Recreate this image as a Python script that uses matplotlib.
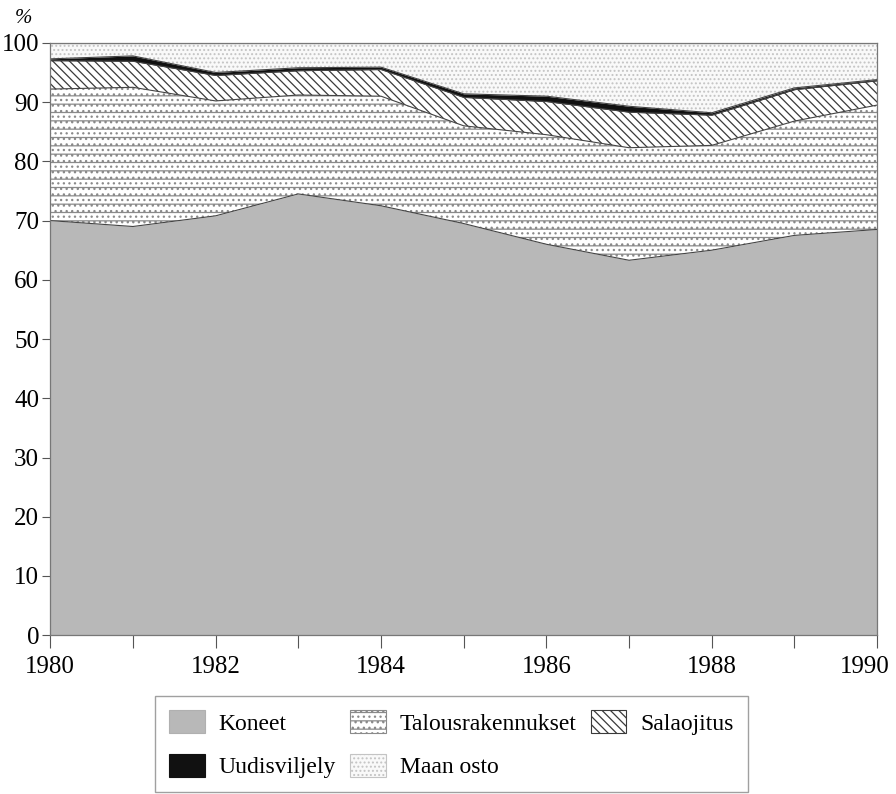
import matplotlib
matplotlib.use('Agg')
import matplotlib.pyplot as plt
import matplotlib.transforms as mtransforms
import numpy as np
from matplotlib.patches import Patch

plt.rcParams['font.family'] = ['Liberation Serif', 'DejaVu Serif']
plt.rcParams['hatch.linewidth'] = 0.9

# data, % shares of investments
years = [1980, 1981, 1982, 1983, 1984, 1985, 1986, 1987, 1988, 1989, 1990]
koneet = [70.0, 69.0, 70.8, 74.5, 72.5, 69.5, 66.0, 63.3, 65.0, 67.5, 68.5]
talousrakennukset = [22.2, 23.5, 19.4, 16.7, 18.5, 16.5, 18.5, 19.0, 17.7, 19.3, 21.0]
salaojitus = [4.8, 4.4, 4.3, 4.1, 4.5, 4.8, 5.6, 6.0, 5.1, 5.3, 4.1]
uudisviljely = [0.3, 0.9, 0.5, 0.5, 0.4, 0.6, 0.9, 1.0, 0.4, 0.3, 0.2]
labels = ['Koneet', 'Talousrakennukset', 'Salaojitus', 'Uudisviljely', 'Maan osto']

x = np.array(years)
k = np.array(koneet)
t = np.array(talousrakennukset)
s = np.array(salaojitus)
u = np.array(uudisviljely)
m = 100 - k - t - s - u

layers = [k, t, s, u, m]
# facecolor, hatch color, hatch
styles = [
    ('#b8b8b8', '#b0b0b0', None),
    ('white', '#8a8a8a', '--...'),
    ('white', '#3a3a3a', '\\\\\\\\'),
    ('#111111', '#111111', None),
    ('#f9f9f9', '#c4c4c4', '....'),
]

fig = plt.figure(figsize=(8.96, 7.94), dpi=100)
ax = fig.add_axes([0.056, 0.2, 0.923, 0.746])

bottom = np.zeros(len(x))
for vals, (fc, hc, h) in zip(layers, styles):
    top = bottom + vals
    ax.fill_between(x, bottom, top, facecolor=fc, edgecolor=hc, hatch=h, linewidth=0)
    ax.plot(x, top, color='#444444', linewidth=0.8)
    bottom = top

ax.set_xlim(1980, 1990)
ax.set_ylim(0, 100)
ax.set_yticks(range(0, 101, 10))
ax.set_xticks(years)
ax.set_xticklabels([str(y) if y % 2 == 0 else '' for y in years])
ax.tick_params(axis='both', direction='out', labelsize=18, color='#555555')
ax.tick_params(axis='y', length=6, pad=2)
ax.tick_params(axis='x', length=9, pad=6)
for sp in ax.spines.values():
    sp.set_color('#777777')
    sp.set_linewidth(0.9)

# last year label sits a bit left so it stays inside the figure
last = ax.get_xticklabels()[-1]
last.set_transform(last.get_transform() + mtransforms.ScaledTranslation(-12 / 100, 0, fig.dpi_scale_trans))

fig.text(0.017, 0.977, '%', fontsize=15, style='italic', ha='left', va='center')

handles = [Patch(facecolor=fc, edgecolor=hc, hatch=h, linewidth=0.8) for fc, hc, h in styles]
order = [0, 3, 1, 4, 2]
leg = fig.legend([handles[i] for i in order], [labels[i] for i in order],
                 ncol=3, loc='lower left', bbox_to_anchor=(0.173, 0.002), borderaxespad=0,
                 fontsize=17, frameon=True, fancybox=False, edgecolor='#888888',
                 handlelength=1.5, handleheight=1.15, columnspacing=0.6,
                 handletextpad=0.6, borderpad=0.6, labelspacing=0.8)

fig.savefig('out.png', dpi=100)
